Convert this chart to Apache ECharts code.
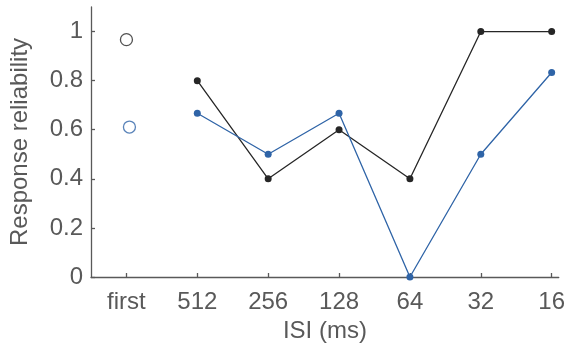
<!DOCTYPE html>
<html>
<head>
<meta charset="utf-8">
<script src="https://cdn.jsdelivr.net/npm/echarts@6/dist/echarts.min.js"></script>
<style>html,body{margin:0;padding:0;background:#fff}#c{width:568px;height:349px}</style>
</head>
<body>
<div id="c"></div>
<script>
var categories = ['first', '512', '256', '128', '64', '32', '16'];
var blackFirst = 0.967;
var blueFirst = 0.611;
var blackValues = [0.8, 0.4, 0.6, 0.4, 1.0, 1.0];
var blueValues = [0.667, 0.5, 0.667, 0.0, 0.5, 0.833];
var yTicks = [0, 0.2, 0.4, 0.6, 0.8, 1];

var BLACK = '#262626', BLUE = '#2f64a7', AX = '#595959';
var FONT = 'Liberation Sans';
var tickIdx = categories.map(function (c, i) { return i; });
function series(vals) { return vals.map(function (v, i) { return [i + 1, v]; }); }

var chart = echarts.init(document.getElementById('c'), null, {renderer: 'canvas'});
chart.setOption({
  animation: false,
  grid: {left: 90, right: 8, top: 7, bottom: 72},
  xAxis: {
    type: 'value', min: -0.5, max: 6.1,
    name: 'ISI (ms)', nameLocation: 'middle', nameGap: 42,
    nameTextStyle: {color: AX, fontSize: 24, fontFamily: FONT},
    axisLine: {show: true, onZero: false, lineStyle: {color: AX, width: 1.3}},
    axisTick: {show: true, inside: true, length: 4, customValues: tickIdx, lineStyle: {color: AX, width: 1.3}},
    axisLabel: {customValues: tickIdx, color: AX, fontSize: 24, fontFamily: FONT, margin: 13,
      formatter: function (v) { return categories[Math.round(v)]; }},
    splitLine: {show: false}
  },
  yAxis: {
    type: 'value', min: 0, max: 1.1,
    name: 'Response reliability', nameLocation: 'middle', nameGap: 59,
    nameTextStyle: {color: AX, fontSize: 24, fontFamily: FONT},
    axisLine: {show: true, onZero: false, lineStyle: {color: AX, width: 1.3}},
    axisTick: {show: true, inside: true, length: 4, customValues: yTicks, lineStyle: {color: AX, width: 1.3}},
    axisLabel: {customValues: yTicks, color: AX, fontSize: 24, fontFamily: FONT, margin: 8},
    splitLine: {show: false}
  },
  series: [
    {type: 'line', data: series(blackValues), symbol: 'circle', symbolSize: 7,
      lineStyle: {color: BLACK, width: 1.3}, itemStyle: {color: BLACK}},
    {type: 'line', data: series(blueValues), symbol: 'circle', symbolSize: 7,
      lineStyle: {color: BLUE, width: 1.3}, itemStyle: {color: BLUE}},
    {type: 'scatter', data: [[0, blackFirst]], symbol: 'circle', symbolSize: 12,
      itemStyle: {color: 'transparent', borderColor: BLACK, borderWidth: 1.3}},
    {type: 'scatter', data: [[0, blueFirst]], symbol: 'circle', symbolSize: 12, symbolOffset: [3, 0],
      itemStyle: {color: 'transparent', borderColor: BLUE, borderWidth: 1.3}}
  ]
});
</script>
</body>
</html>
